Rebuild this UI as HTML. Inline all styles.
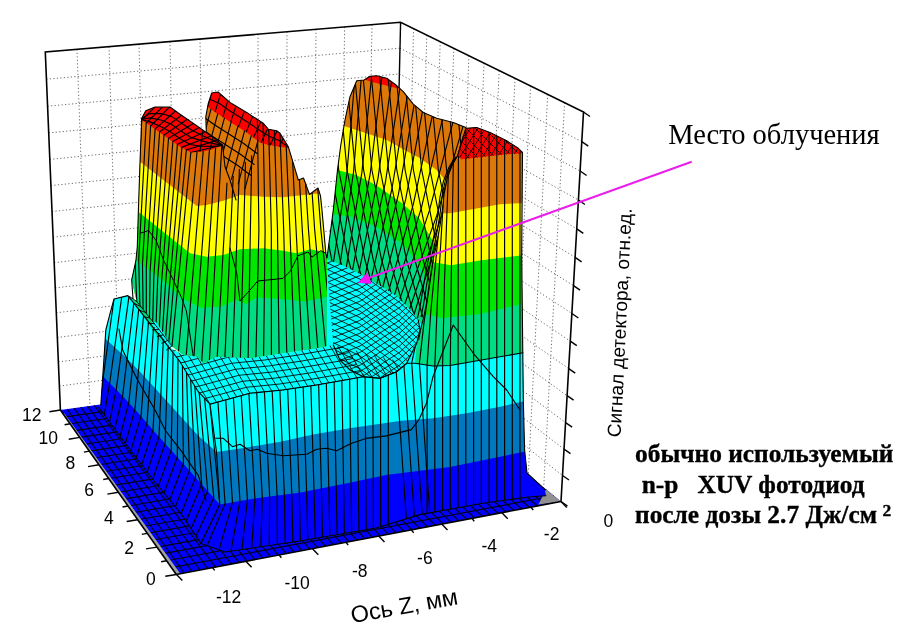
<!DOCTYPE html>
<html><head><meta charset="utf-8"><title>3D plot</title>
<style>html,body{margin:0;padding:0;background:#fff}svg{display:block}</style>
</head><body>
<svg width="900" height="635" viewBox="0 0 900 635">
<defs>
<clipPath id="c1"><polygon points="136.7,301.4 131.7,280.0 136.0,260.0 137.3,246.7 138.3,213.0 140.0,163.0 141.7,118.3 145.8,110.8 155.0,107.0 170.0,107.0 180.0,114.2 196.7,125.8 206.3,132.5 205.8,116.7 208.3,103.3 211.7,93.0 218.0,92.0 230.0,102.5 246.7,112.5 263.3,123.3 268.3,129.2 276.7,130.8 280.0,133.3 288.3,146.7 298.3,180.0 303.5,178.0 309.5,194.5 318.0,188.0 320.5,196.0 322.0,210.4 325.8,253.0 327.0,258.0 329.3,296.7 333.3,345.0 333.3,345.0 316.7,348.3 283.3,353.3 250.0,358.3 216.7,356.7 203.3,363.3 196.7,356.7 183.3,355.0 172.0,346.0"/></clipPath>
<clipPath id="c2"><polygon points="205.8,116.7 205.8,116.7 208.3,103.3 211.7,93.0 218.0,92.0 230.0,102.5 246.7,112.5 263.3,123.3 268.3,129.2 276.7,130.8 280.0,133.3 288.3,146.7 298.3,180.0 303.5,178.0 309.5,194.5 318.0,188.0 320.5,196.0 322.0,210.4 325.8,253.0 327.0,258.0 329.0,300.0 236.0,300.0 236.0,200.0 230.0,180.0 225.0,166.7 222.5,145.0 206.3,132.5"/></clipPath>
<clipPath id="c3"><polygon points="141.7,118.3 145.8,110.8 155.0,107.0 170.0,107.0 180.0,114.2 196.7,125.8 213.3,137.5 222.5,145.0 222.5,145.8 210.0,150.0 200.0,151.7 190.8,152.5 180.0,146.7 163.3,135.0 151.7,126.7 141.7,120.0"/></clipPath>
<clipPath id="c4"><polygon points="208.3,103.3 211.7,93.0 218.0,92.0 230.0,102.5 246.7,112.5 263.3,123.3 268.3,129.2 276.7,130.8 280.0,133.3 288.3,146.7 288.3,147.7 279.8,146.7 268.3,145.0 260.0,142.5 246.7,132.5 230.0,121.7 216.7,113.3 207.5,106.7"/></clipPath>
<clipPath id="c5"><polygon points="327.0,258.0 333.3,210.0 337.5,170.0 340.8,145.0 345.0,120.0 350.0,96.7 356.7,80.8 364.2,80.0 370.0,76.3 376.7,75.8 386.7,78.3 395.0,84.2 403.3,91.7 413.3,104.2 423.3,112.5 436.7,118.3 453.3,122.5 465.8,127.5 470.0,160.0 470.0,380.0 327.0,380.0"/></clipPath>
<clipPath id="c6"><polygon points="327.0,258.0 333.3,210.0 337.5,170.0 340.8,145.0 345.0,120.0 350.0,96.7 356.7,80.8 364.2,80.0 370.0,76.3 376.7,75.8 386.7,78.3 395.0,84.2 403.3,91.7 413.3,104.2 423.3,112.5 436.7,118.3 453.3,122.5 465.8,127.5 457.5,155.8 452.0,165.7 447.2,178.3 444.1,194.1 442.0,213.0 439.5,228.7 436.5,245.0 433.5,258.0 431.2,271.5 428.8,287.2 426.5,303.0 424.1,315.6 419.5,321.5 418.3,320.0 411.4,311.2 396.3,296.0 376.2,283.5 358.5,273.4 343.4,265.8 327.0,259.5"/></clipPath>
<clipPath id="c7"><polygon points="457.5,155.8 460.0,148.3 463.3,136.7 465.8,128.3 476.7,127.5 490.0,132.5 506.7,140.8 518.3,148.3 522.5,152.5 521.7,255.0 523.3,400.0 405.0,400.0 406.7,363.3 416.7,343.3 418.6,340.0 420.9,328.2 424.1,315.6 426.5,303.0 428.8,287.2 431.2,271.5 433.5,258.0 436.5,245.0 439.5,228.7 442.0,213.0 444.1,194.1 447.2,178.3 452.0,165.7"/></clipPath>
<clipPath id="c8"><polygon points="457.5,155.8 460.0,148.3 463.3,136.7 465.8,128.3 476.7,127.5 490.0,132.5 506.7,140.8 518.3,148.3 522.5,152.5 522.5,153.3 506.7,154.2 483.3,156.7 461.7,159.2 457.5,155.5"/></clipPath>
<clipPath id="c9"><polygon points="114.0,299.0 127.9,295.6 133.0,299.0 170.7,348.0 183.3,355.0 196.7,356.7 203.3,363.3 216.7,356.7 250.0,358.3 283.3,353.3 316.7,348.3 333.3,345.0 329.3,296.7 327.0,259.5 343.4,265.8 358.5,273.4 376.2,283.5 396.3,296.0 411.4,311.2 418.3,320.0 420.0,330.0 416.7,343.3 415.0,363.3 433.0,366.0 450.0,365.5 523.0,352.8 523.3,400.0 524.6,450.0 527.0,473.0 544.7,489.4 546.0,495.7 528.3,497.0 483.0,503.3 420.0,514.6 376.0,528.0 300.0,541.0 225.0,552.0 201.0,543.6 180.8,513.4 155.6,483.0 130.4,450.4 98.9,407.6 100.8,405.0 102.5,380.0 104.2,355.0 105.8,330.0 110.2,312.8"/></clipPath>
<clipPath id="c10"><polygon points="327.0,259.5 343.4,265.8 358.5,273.4 376.2,283.5 396.3,296.0 411.4,311.2 418.3,320.0 420.0,330.0 416.7,343.3 406.7,363.3 396.7,371.7 380.0,378.3 363.3,376.7 350.0,370.0 340.0,360.0 333.3,345.0 329.3,296.7 327.0,259.5"/></clipPath>
<clipPath id="c11"><polygon points="210.0,404.2 250.0,393.3 283.3,390.0 316.7,385.0 351.0,379.0 363.3,376.7 380.0,378.3 396.7,371.7 406.7,363.3 415.0,363.3 433.0,366.0 450.0,365.5 523.0,352.8 523.3,400.0 524.6,450.0 527.0,473.0 544.7,489.4 546.0,495.7 528.3,497.0 483.0,503.3 420.0,514.6 376.0,528.0 300.0,541.0 225.0,552.0 201.0,543.6 219.8,504.6 216.5,452.0"/></clipPath>
<clipPath id="c12"><polygon points="114.0,299.0 127.9,295.6 168.3,346.7 180.0,361.7 190.0,378.3 198.3,391.7 210.0,404.2 216.5,452.0 219.8,504.6 201.0,543.6 180.8,513.4 155.6,483.0 130.4,450.4 98.9,407.6 100.8,405.0 102.5,380.0 104.2,355.0 105.8,330.0 110.2,312.8"/></clipPath>
<clipPath id="c13"><polygon points="127.9,295.6 168.3,346.7 180.0,361.7 190.0,378.3 198.3,391.7 210.0,404.2 250.0,393.3 283.3,390.0 316.7,385.0 351.0,379.0 363.3,376.7 380.0,378.3 396.7,371.7 406.7,363.3 333.3,345.0 333.3,345.0 316.7,348.3 283.3,353.3 250.0,358.3 216.7,356.7 203.3,363.3 196.7,356.7 183.3,355.0 170.7,348.0 133.0,299.0"/></clipPath>
</defs>
<rect width="900" height="635" fill="#fff"/>
<polygon points="45.3,52.0 400.6,22.2 392.6,364.0 60.4,410.0" fill="#fff" />
<polygon points="400.6,22.2 583.5,112.0 561.0,501.5 392.6,364.0" fill="#fff" />
<line x1="77.0" y1="49.3" x2="89.9" y2="405.9" stroke="#6a6a6a" stroke-width="1" stroke-dasharray="1.2,2.3"/>
<line x1="109.0" y1="46.7" x2="119.7" y2="401.8" stroke="#6a6a6a" stroke-width="1" stroke-dasharray="1.2,2.3"/>
<line x1="139.0" y1="44.1" x2="147.7" y2="397.9" stroke="#6a6a6a" stroke-width="1" stroke-dasharray="1.2,2.3"/>
<line x1="170.0" y1="41.5" x2="176.7" y2="393.9" stroke="#6a6a6a" stroke-width="1" stroke-dasharray="1.2,2.3"/>
<line x1="200.0" y1="39.0" x2="204.7" y2="390.0" stroke="#6a6a6a" stroke-width="1" stroke-dasharray="1.2,2.3"/>
<line x1="229.0" y1="36.6" x2="231.8" y2="386.2" stroke="#6a6a6a" stroke-width="1" stroke-dasharray="1.2,2.3"/>
<line x1="258.0" y1="34.2" x2="259.0" y2="382.5" stroke="#6a6a6a" stroke-width="1" stroke-dasharray="1.2,2.3"/>
<line x1="287.0" y1="31.7" x2="286.1" y2="378.7" stroke="#6a6a6a" stroke-width="1" stroke-dasharray="1.2,2.3"/>
<line x1="316.0" y1="29.3" x2="313.3" y2="375.0" stroke="#6a6a6a" stroke-width="1" stroke-dasharray="1.2,2.3"/>
<line x1="344.6" y1="26.9" x2="340.1" y2="371.3" stroke="#6a6a6a" stroke-width="1" stroke-dasharray="1.2,2.3"/>
<line x1="372.0" y1="24.6" x2="365.8" y2="367.7" stroke="#6a6a6a" stroke-width="1" stroke-dasharray="1.2,2.3"/>
<line x1="46.4" y1="79.2" x2="400.0" y2="48.2" stroke="#6a6a6a" stroke-width="1" stroke-dasharray="1.2,2.3"/>
<line x1="47.6" y1="106.2" x2="399.4" y2="73.9" stroke="#6a6a6a" stroke-width="1" stroke-dasharray="1.2,2.3"/>
<line x1="48.7" y1="132.9" x2="398.8" y2="99.4" stroke="#6a6a6a" stroke-width="1" stroke-dasharray="1.2,2.3"/>
<line x1="49.8" y1="159.4" x2="398.2" y2="124.7" stroke="#6a6a6a" stroke-width="1" stroke-dasharray="1.2,2.3"/>
<line x1="50.9" y1="185.6" x2="397.6" y2="149.7" stroke="#6a6a6a" stroke-width="1" stroke-dasharray="1.2,2.3"/>
<line x1="52.0" y1="211.5" x2="397.0" y2="174.5" stroke="#6a6a6a" stroke-width="1" stroke-dasharray="1.2,2.3"/>
<line x1="53.1" y1="237.2" x2="396.5" y2="199.0" stroke="#6a6a6a" stroke-width="1" stroke-dasharray="1.2,2.3"/>
<line x1="54.2" y1="262.7" x2="395.9" y2="223.3" stroke="#6a6a6a" stroke-width="1" stroke-dasharray="1.2,2.3"/>
<line x1="55.2" y1="287.9" x2="395.3" y2="247.4" stroke="#6a6a6a" stroke-width="1" stroke-dasharray="1.2,2.3"/>
<line x1="56.3" y1="312.8" x2="394.8" y2="271.2" stroke="#6a6a6a" stroke-width="1" stroke-dasharray="1.2,2.3"/>
<line x1="57.3" y1="337.5" x2="394.2" y2="294.8" stroke="#6a6a6a" stroke-width="1" stroke-dasharray="1.2,2.3"/>
<line x1="58.4" y1="361.9" x2="393.7" y2="318.1" stroke="#6a6a6a" stroke-width="1" stroke-dasharray="1.2,2.3"/>
<line x1="59.4" y1="386.1" x2="393.1" y2="341.2" stroke="#6a6a6a" stroke-width="1" stroke-dasharray="1.2,2.3"/>
<line x1="413.6" y1="28.6" x2="404.7" y2="373.8" stroke="#6a6a6a" stroke-width="1" stroke-dasharray="1.2,2.3"/>
<line x1="426.8" y1="35.1" x2="416.9" y2="383.7" stroke="#6a6a6a" stroke-width="1" stroke-dasharray="1.2,2.3"/>
<line x1="440.2" y1="41.6" x2="429.4" y2="393.8" stroke="#6a6a6a" stroke-width="1" stroke-dasharray="1.2,2.3"/>
<line x1="453.8" y1="48.3" x2="441.9" y2="404.0" stroke="#6a6a6a" stroke-width="1" stroke-dasharray="1.2,2.3"/>
<line x1="468.9" y1="55.7" x2="455.9" y2="415.3" stroke="#6a6a6a" stroke-width="1" stroke-dasharray="1.2,2.3"/>
<line x1="484.0" y1="63.1" x2="469.8" y2="426.7" stroke="#6a6a6a" stroke-width="1" stroke-dasharray="1.2,2.3"/>
<line x1="499.1" y1="70.6" x2="483.7" y2="438.1" stroke="#6a6a6a" stroke-width="1" stroke-dasharray="1.2,2.3"/>
<line x1="515.0" y1="78.4" x2="498.3" y2="450.0" stroke="#6a6a6a" stroke-width="1" stroke-dasharray="1.2,2.3"/>
<line x1="530.6" y1="86.0" x2="512.6" y2="461.7" stroke="#6a6a6a" stroke-width="1" stroke-dasharray="1.2,2.3"/>
<line x1="547.7" y1="94.4" x2="528.3" y2="474.6" stroke="#6a6a6a" stroke-width="1" stroke-dasharray="1.2,2.3"/>
<line x1="564.6" y1="102.7" x2="543.7" y2="487.3" stroke="#6a6a6a" stroke-width="1" stroke-dasharray="1.2,2.3"/>
<line x1="400.0" y1="48.2" x2="581.8" y2="141.6" stroke="#6a6a6a" stroke-width="1" stroke-dasharray="1.2,2.3"/>
<line x1="399.4" y1="73.9" x2="580.1" y2="171.0" stroke="#6a6a6a" stroke-width="1" stroke-dasharray="1.2,2.3"/>
<line x1="398.8" y1="99.4" x2="578.4" y2="200.0" stroke="#6a6a6a" stroke-width="1" stroke-dasharray="1.2,2.3"/>
<line x1="398.2" y1="124.7" x2="576.8" y2="228.8" stroke="#6a6a6a" stroke-width="1" stroke-dasharray="1.2,2.3"/>
<line x1="397.6" y1="149.7" x2="575.1" y2="257.3" stroke="#6a6a6a" stroke-width="1" stroke-dasharray="1.2,2.3"/>
<line x1="397.0" y1="174.5" x2="573.5" y2="285.6" stroke="#6a6a6a" stroke-width="1" stroke-dasharray="1.2,2.3"/>
<line x1="396.5" y1="199.0" x2="571.9" y2="313.5" stroke="#6a6a6a" stroke-width="1" stroke-dasharray="1.2,2.3"/>
<line x1="395.9" y1="223.3" x2="570.3" y2="341.2" stroke="#6a6a6a" stroke-width="1" stroke-dasharray="1.2,2.3"/>
<line x1="395.3" y1="247.4" x2="568.7" y2="368.6" stroke="#6a6a6a" stroke-width="1" stroke-dasharray="1.2,2.3"/>
<line x1="394.8" y1="271.2" x2="567.1" y2="395.7" stroke="#6a6a6a" stroke-width="1" stroke-dasharray="1.2,2.3"/>
<line x1="394.2" y1="294.8" x2="565.6" y2="422.6" stroke="#6a6a6a" stroke-width="1" stroke-dasharray="1.2,2.3"/>
<line x1="393.7" y1="318.1" x2="564.0" y2="449.2" stroke="#6a6a6a" stroke-width="1" stroke-dasharray="1.2,2.3"/>
<line x1="393.1" y1="341.2" x2="562.5" y2="475.5" stroke="#6a6a6a" stroke-width="1" stroke-dasharray="1.2,2.3"/>
<polyline points="60.4,410.0 45.3,52.0 400.6,22.2 583.5,112.0 561.0,501.5" fill="none" stroke="#000" stroke-width="1.6" />
<line x1="400.6" y1="22.2" x2="392.6" y2="364.0" stroke="#000" stroke-width="1.4" />
<line x1="583.5" y1="112.0" x2="590.0" y2="116.5" stroke="#000" stroke-width="1.4" />
<line x1="581.8" y1="141.6" x2="588.3" y2="146.1" stroke="#000" stroke-width="1.4" />
<line x1="580.1" y1="171.0" x2="586.6" y2="175.5" stroke="#000" stroke-width="1.4" />
<line x1="578.4" y1="200.0" x2="584.9" y2="204.5" stroke="#000" stroke-width="1.4" />
<line x1="576.8" y1="228.8" x2="583.3" y2="233.3" stroke="#000" stroke-width="1.4" />
<line x1="575.1" y1="257.3" x2="581.6" y2="261.8" stroke="#000" stroke-width="1.4" />
<line x1="573.5" y1="285.6" x2="580.0" y2="290.1" stroke="#000" stroke-width="1.4" />
<line x1="571.9" y1="313.5" x2="578.4" y2="318.0" stroke="#000" stroke-width="1.4" />
<line x1="570.3" y1="341.2" x2="576.8" y2="345.7" stroke="#000" stroke-width="1.4" />
<line x1="568.7" y1="368.6" x2="575.2" y2="373.1" stroke="#000" stroke-width="1.4" />
<line x1="567.1" y1="395.7" x2="573.6" y2="400.2" stroke="#000" stroke-width="1.4" />
<line x1="565.6" y1="422.6" x2="572.1" y2="427.1" stroke="#000" stroke-width="1.4" />
<line x1="564.0" y1="449.2" x2="570.5" y2="453.7" stroke="#000" stroke-width="1.4" />
<line x1="562.5" y1="475.5" x2="569.0" y2="480.0" stroke="#000" stroke-width="1.4" />
<line x1="561.0" y1="501.5" x2="567.5" y2="506.0" stroke="#000" stroke-width="1.4" />
<polygon points="60.4,410.0 176.3,574.5 561.0,501.5 392.6,364.0" fill="#0000ff" />
<g stroke="#000018" stroke-width="1.15" fill="none">
<path d="M67.2 409.1L184.2 573.0"/>
<path d="M74.0 408.1L192.0 571.5"/>
<path d="M80.7 407.2L199.9 570.0"/>
<path d="M87.5 406.2L207.7 568.5"/>
<path d="M94.3 405.3L215.6 567.1"/>
<path d="M101.1 404.4L223.4 565.6"/>
<path d="M107.9 403.4L231.3 564.1"/>
<path d="M114.6 402.5L239.1 562.6"/>
<path d="M121.4 401.6L247.0 561.1"/>
<path d="M128.2 400.6L254.8 559.6"/>
<path d="M135.0 399.7L262.7 558.1"/>
<path d="M141.8 398.7L270.5 556.6"/>
<path d="M148.5 397.8L278.4 555.1"/>
<path d="M155.3 396.9L286.2 553.6"/>
<path d="M162.1 395.9L294.1 552.2"/>
<path d="M168.9 395.0L301.9 550.7"/>
<path d="M175.7 394.0L309.8 549.2"/>
<path d="M182.4 393.1L317.6 547.7"/>
<path d="M189.2 392.2L325.5 546.2"/>
<path d="M196.0 391.2L333.3 544.7"/>
<path d="M202.8 390.3L341.2 543.2"/>
<path d="M209.5 389.3L349.0 541.7"/>
<path d="M216.3 388.4L356.9 540.2"/>
<path d="M223.1 387.5L364.7 538.7"/>
<path d="M229.9 386.5L372.6 537.3"/>
<path d="M236.7 385.6L380.4 535.8"/>
<path d="M243.4 384.7L388.3 534.3"/>
<path d="M250.2 383.7L396.1 532.8"/>
<path d="M257.0 382.8L404.0 531.3"/>
<path d="M263.8 381.8L411.8 529.8"/>
<path d="M270.6 380.9L419.7 528.3"/>
<path d="M277.3 380.0L427.5 526.8"/>
<path d="M284.1 379.0L435.4 525.3"/>
<path d="M290.9 378.1L443.2 523.8"/>
<path d="M297.7 377.1L451.1 522.4"/>
<path d="M304.5 376.2L458.9 520.9"/>
<path d="M311.2 375.3L466.8 519.4"/>
<path d="M318.0 374.3L474.6 517.9"/>
<path d="M324.8 373.4L482.5 516.4"/>
<path d="M331.6 372.4L490.3 514.9"/>
<path d="M338.4 371.5L498.2 513.4"/>
<path d="M345.1 370.6L506.0 511.9"/>
<path d="M351.9 369.6L513.9 510.4"/>
<path d="M358.7 368.7L521.7 508.9"/>
<path d="M365.5 367.8L529.6 507.5"/>
<path d="M372.3 366.8L537.4 506.0"/>
<path d="M379.0 365.9L545.3 504.5"/>
<path d="M385.8 364.9L553.1 503.0"/>
<path d="M171.5 567.6L554.0 495.8"/>
<path d="M166.6 560.8L547.0 490.0"/>
<path d="M161.8 553.9L539.9 484.3"/>
<path d="M157.0 547.1L532.9 478.6"/>
<path d="M152.2 540.2L525.9 472.9"/>
<path d="M147.3 533.4L518.9 467.1"/>
<path d="M142.5 526.5L511.9 461.4"/>
<path d="M137.7 519.7L504.9 455.7"/>
<path d="M132.8 512.8L497.8 449.9"/>
<path d="M128.0 506.0L490.8 444.2"/>
<path d="M123.2 499.1L483.8 438.5"/>
<path d="M118.4 492.2L476.8 432.8"/>
<path d="M113.5 485.4L469.8 427.0"/>
<path d="M108.7 478.5L462.8 421.3"/>
<path d="M103.9 471.7L455.7 415.6"/>
<path d="M99.0 464.8L448.7 409.8"/>
<path d="M94.2 458.0L441.7 404.1"/>
<path d="M89.4 451.1L434.7 398.4"/>
<path d="M84.5 444.3L427.7 392.6"/>
<path d="M79.7 437.4L420.7 386.9"/>
<path d="M74.9 430.6L413.6 381.2"/>
<path d="M70.1 423.7L406.6 375.5"/>
<path d="M65.2 416.9L399.6 369.7"/>
</g>
<polygon points="62.0,413.0 176.3,574.5 179.8,573.0 64.5,413.5" fill="#a0a0a0" />
<polygon points="538.4,504.6 546.0,489.4 561.0,501.5" fill="#909090" />
<polygon points="136.7,301.4 131.7,280.0 136.0,260.0 137.3,246.7 138.3,213.0 140.0,163.0 141.7,118.3 145.8,110.8 155.0,107.0 170.0,107.0 180.0,114.2 196.7,125.8 206.3,132.5 205.8,116.7 208.3,103.3 211.7,93.0 218.0,92.0 230.0,102.5 246.7,112.5 263.3,123.3 268.3,129.2 276.7,130.8 280.0,133.3 288.3,146.7 298.3,180.0 303.5,178.0 309.5,194.5 318.0,188.0 320.5,196.0 322.0,210.4 325.8,253.0 327.0,258.0 329.3,296.7 333.3,345.0 333.3,345.0 316.7,348.3 283.3,353.3 250.0,358.3 216.7,356.7 203.3,363.3 196.7,356.7 183.3,355.0 172.0,346.0" fill="#dc780a" />
<polygon points="208.3,103.3 211.7,93.0 218.0,92.0 230.0,102.5 246.7,112.5 263.3,123.3 268.3,129.2 276.7,130.8 280.0,133.3 288.3,146.7 288.3,147.7 279.8,146.7 268.3,145.0 260.0,142.5 246.7,132.5 230.0,121.7 216.7,113.3 207.5,106.7" fill="#ff0000" />
<polygon points="141.7,118.3 145.8,110.8 155.0,107.0 170.0,107.0 180.0,114.2 196.7,125.8 213.3,137.5 222.5,145.0 222.5,145.8 210.0,150.0 200.0,151.7 190.8,152.5 180.0,146.7 163.3,135.0 151.7,126.7 141.7,120.0" fill="#ff0000" />
<polygon points="108.5,137.1 140.0,161.7 196.7,206.0 206.7,205.0 223.3,200.7 240.0,195.0 263.3,196.7 283.3,197.3 303.3,195.0 321.0,193.3 360.8,189.5 360.8,720.0 108.5,720.0" fill="#ffff00" clip-path="url(#c1)"/>
<polygon points="107.1,186.6 138.3,211.7 190.0,253.3 206.7,256.7 223.3,255.0 240.0,249.3 263.3,248.3 283.3,250.7 296.7,253.3 310.0,249.3 325.0,252.0 364.4,259.1 364.4,720.0 107.1,720.0" fill="#00e600" clip-path="url(#c1)"/>
<polygon points="103.9,236.2 136.0,260.0 163.0,280.0 181.0,297.6 201.0,307.7 221.0,306.5 236.0,300.0 246.0,304.0 256.5,297.6 282.0,299.0 305.0,301.4 326.7,296.7 365.8,288.2 365.8,720.0 103.9,720.0" fill="#00dc82" clip-path="url(#c1)"/>
<g clip-path="url(#c1)" stroke="#000" stroke-width="1.15" fill="none" stroke-linecap="round" stroke-linejoin="round">
<path d="M141.7 120.0L134.9 256.0L136.7 301.4"/>
<path d="M146.2 123.0L138.7 259.8L139.9 305.5"/>
<path d="M150.6 126.0L142.5 263.6L143.1 309.5"/>
<path d="M155.1 129.1L146.3 267.5L146.3 313.6"/>
<path d="M159.6 132.3L150.1 271.3L149.5 317.6"/>
<path d="M164.0 135.5L153.9 275.1L152.7 321.7"/>
<path d="M168.5 138.6L157.7 279.0L156.0 325.7"/>
<path d="M172.9 141.8L161.5 282.8L159.2 329.8"/>
<path d="M177.4 144.9L165.3 286.6L162.4 333.8"/>
<path d="M181.9 147.7L169.1 290.3L165.6 337.9"/>
<path d="M186.3 150.1L172.9 294.0L168.8 341.9"/>
<path d="M190.8 152.5L176.7 297.6L172.0 346.0"/>
<path d="M178.4 352.3L197.0 152.0"/>
<path d="M186.2 355.4L203.2 151.2"/>
<path d="M193.9 356.3L209.4 150.1"/>
<path d="M201.7 361.7L215.6 148.1"/>
<path d="M209.4 360.3L221.8 146.0"/>
<path d="M217.2 356.7L227.0 183.0"/>
<path d="M224.9 357.1L233.2 176.2"/>
<path d="M232.6 357.5L239.4 169.4"/>
<path d="M240.4 357.8L245.5 162.6"/>
<path d="M248.1 358.2L251.7 155.8"/>
<path d="M255.9 357.4L258.9 230.0L257.3 110.0"/>
<path d="M263.6 356.3L265.1 230.0L262.8 110.0"/>
<path d="M271.4 355.1L271.3 230.0L268.2 110.0"/>
<path d="M279.1 353.9L277.5 230.0L273.7 110.0"/>
<path d="M286.8 352.8L283.7 230.0L279.1 110.0"/>
<path d="M294.6 351.6L289.9 230.0L284.6 110.0"/>
<path d="M302.3 350.5L296.1 230.0L290.0 110.0"/>
<path d="M310.1 349.3L302.3 230.0L295.5 110.0"/>
<path d="M317.8 348.1L308.5 230.0L300.9 110.0"/>
<path d="M325.6 346.5L314.7 230.0L306.4 110.0"/>
<path d="M333.3 345.0L320.9 230.0L311.8 110.0"/>
</g>
<g clip-path="url(#c2)" stroke="#000" stroke-width="1.15" fill="none" stroke-linecap="round" stroke-linejoin="round">
<path d="M211.0 109.2L198.0 157.2"/>
<path d="M217.7 113.9L204.7 161.9"/>
<path d="M224.4 118.2L211.4 166.2"/>
<path d="M231.1 122.4L218.1 170.4"/>
<path d="M237.8 126.7L224.8 174.7"/>
<path d="M244.5 131.1L231.5 179.1"/>
<path d="M251.2 135.9L238.2 183.9"/>
<path d="M257.9 140.9L244.9 188.9"/>
<path d="M204.5 117.7L213.7 124.3L227.0 132.7L243.7 143.5L257.0 153.5"/>
<path d="M201.6 128.7L210.8 135.3L224.1 143.7L240.8 154.5L254.1 164.5"/>
<path d="M198.6 139.7L207.8 146.3L221.1 154.7L237.8 165.5L251.1 175.5"/>
</g>
<g clip-path="url(#c1)" stroke="#000" stroke-width="1.0" fill="none" stroke-linecap="round" stroke-linejoin="round">
<path d="M141.0 233.0L148.6 230.5L156.2 240.6L163.8 260.8L171.3 275.9L181.4 297.3L186.4 311.0L190.0 335.0L193.3 356.7"/>
<path d="M230.0 248.0L236.7 273.0L240.0 301.0L250.0 290.0L257.7 281.0L283.0 278.4L290.5 270.9L298.0 255.7L308.0 252.0L312.0 257.0L320.7 250.7L325.8 253.2"/>
</g>
<g clip-path="url(#c3)" stroke="#000" stroke-width="1.15" fill="none" stroke-linecap="round" stroke-linejoin="round">
<path d="M141.7 118.7L149.7 113.6L160.9 113.5L172.0 116.6L181.9 123.6L191.9 130.3L202.3 135.5L212.6 140.3L222.5 145.2"/>
<path d="M141.7 119.2L150.2 117.9L160.8 120.0L171.3 124.3L181.0 131.1L191.0 137.4L201.7 140.9L212.3 143.4L222.5 145.4"/>
<path d="M141.7 119.6L150.7 122.1L160.7 126.5L170.6 131.9L180.1 138.7L190.2 144.5L201.1 146.3L212.0 146.4L222.5 145.6"/>
<path d="M155.0 107.0L141.7 120.0"/>
<path d="M162.3 107.0L146.2 123.0"/>
<path d="M169.5 107.0L150.6 126.0"/>
<path d="M175.5 111.0L155.0 129.1"/>
<path d="M181.4 115.2L159.3 132.2"/>
<path d="M187.4 119.3L163.7 135.3"/>
<path d="M193.3 123.5L168.1 138.4"/>
<path d="M199.3 127.6L172.5 141.4"/>
<path d="M205.2 131.8L176.9 144.5"/>
<path d="M211.1 136.0L181.4 147.4"/>
<path d="M216.9 140.4L186.1 150.0"/>
<path d="M222.5 145.0L190.8 152.5"/>
<path d="M200.0 151.7L203.0 130.2"/>
<path d="M210.0 150.0L213.0 137.3"/>
</g>
<g clip-path="url(#c4)" stroke="#000" stroke-width="1.15" fill="none" stroke-linecap="round" stroke-linejoin="round">
<path d="M211.7 93.0L207.5 106.7"/>
<path d="M220.6 94.2L215.0 112.1"/>
<path d="M227.9 100.7L222.8 117.1"/>
<path d="M236.0 106.1L230.6 122.1"/>
<path d="M244.4 111.1L238.3 127.1"/>
<path d="M252.7 116.4L246.1 132.1"/>
<path d="M260.8 121.7L253.5 137.6"/>
<path d="M267.7 128.5L261.1 142.8"/>
<path d="M277.0 131.0L270.0 145.2"/>
<path d="M283.2 138.4L279.1 146.6"/>
<path d="M288.3 146.7L288.3 147.7"/>
<path d="M209.8 99.2L219.9 103.8L229.5 110.8L239.6 117.1L249.7 123.5L259.5 130.2L269.2 136.3L279.6 140.8L288.3 147.1"/>
</g>
<g stroke="#000" stroke-width="1.1" fill="none" stroke-linecap="round" stroke-linejoin="round">
<path d="M133.0 299.0L131.7 280.0L136.0 260.0L137.3 246.7L138.3 213.0L140.0 163.0L141.7 118.3L145.8 110.8L155.0 107.0L170.0 107.0L180.0 114.2L196.7 125.8L213.3 137.5L222.5 145.0L223.3 148.0"/>
<path d="M206.3 132.5L205.8 116.7L208.3 103.3L211.7 93.0L218.0 92.0L230.0 102.5L246.7 112.5L263.3 123.3L268.3 129.2L276.7 130.8L280.0 133.3L288.3 146.7L298.3 180.0L303.5 178.0L309.5 194.5L318.0 188.0L320.5 196.0L322.0 210.4L325.8 253.0L327.0 258.0"/>
<path d="M222.5 145.0L225.0 166.7L230.0 180.0L236.0 200.0"/>
</g>
<polygon points="327.0,258.0 333.3,210.0 337.5,170.0 340.8,145.0 345.0,120.0 350.0,96.7 356.7,80.8 364.2,80.0 370.0,76.3 376.7,75.8 386.7,78.3 395.0,84.2 403.3,91.7 413.3,104.2 423.3,112.5 436.7,118.3 453.3,122.5 465.8,127.5 470.0,160.0 470.0,380.0 327.0,380.0" fill="#dc780a" />
<polygon points="364.8,79.6 370.0,76.3 376.7,75.8 386.7,78.3 395.0,84.2 400.0,89.0 386.3,85.6 376.2,83.1 368.6,81.0" fill="#ff0000" />
<polygon points="305.2,113.6 343.3,125.8 361.7,131.7 386.7,140.0 403.3,149.2 420.0,158.3 436.7,170.0 446.0,181.0 471.8,211.5 471.8,720.0 305.2,720.0" fill="#ffff00" clip-path="url(#c5)"/>
<polygon points="298.4,159.8 337.1,170.0 356.0,175.0 376.2,185.2 401.4,202.8 419.0,218.0 434.1,243.0 439.2,265.8 447.9,304.8 447.9,720.0 298.4,720.0" fill="#00e600" clip-path="url(#c5)"/>
<polygon points="293.7,208.6 333.3,214.2 351.0,216.7 376.2,226.8 401.4,243.1 416.5,260.8 426.6,278.4 431.6,301.1 440.2,340.2 440.2,720.0 293.7,720.0" fill="#00dc82" clip-path="url(#c5)"/>
<polygon points="289.7,245.2 327.0,259.5 343.4,265.8 358.5,273.4 376.2,283.5 396.3,296.0 411.4,311.2 418.3,320.0 443.0,351.5 443.0,720.0 289.7,720.0" fill="#00ffff" clip-path="url(#c5)"/>
<g clip-path="url(#c6)" stroke="#000" stroke-width="1.15" fill="none" stroke-linecap="round" stroke-linejoin="round">
<path d="M354.2 86.7L346.8 174.4L333.5 262.0"/>
<path d="M361.1 80.3L353.5 172.4L340.0 264.5"/>
<path d="M371.5 77.5L361.9 172.4L346.3 267.3"/>
<path d="M381.9 77.1L370.2 173.7L352.5 270.4"/>
<path d="M391.5 81.7L378.1 177.6L358.7 273.5"/>
<path d="M399.8 88.6L385.3 182.8L364.8 277.0"/>
<path d="M407.2 96.5L392.0 188.5L370.8 280.4"/>
<path d="M414.1 104.8L398.4 194.4L376.8 283.9"/>
<path d="M422.4 111.8L405.6 199.7L382.7 287.5"/>
<path d="M432.2 116.3L413.4 203.8L388.6 291.2"/>
<path d="M442.4 119.7L421.5 207.3L394.5 294.9"/>
<path d="M452.9 122.4L429.3 210.9L399.7 299.4"/>
<path d="M463.0 126.4L436.8 215.4L404.6 304.4"/>
<path d="M463.6 135.0L439.5 222.1L409.5 309.3"/>
<path d="M460.5 145.4L440.3 230.0L414.0 314.5"/>
<path d="M255.0 75.0L264.0 170.0L282.0 260.0L305.0 340.0"/>
<path d="M263.3 75.0L272.3 170.0L290.3 260.0L313.3 340.0"/>
<path d="M271.6 75.0L280.6 170.0L298.6 260.0L321.6 340.0"/>
<path d="M279.9 75.0L288.9 170.0L306.9 260.0L329.9 340.0"/>
<path d="M288.2 75.0L297.2 170.0L315.2 260.0L338.2 340.0"/>
<path d="M296.5 75.0L305.5 170.0L323.5 260.0L346.5 340.0"/>
<path d="M304.8 75.0L313.8 170.0L331.8 260.0L354.8 340.0"/>
<path d="M313.1 75.0L322.1 170.0L340.1 260.0L363.1 340.0"/>
<path d="M321.4 75.0L330.4 170.0L348.4 260.0L371.4 340.0"/>
<path d="M329.7 75.0L338.7 170.0L356.7 260.0L379.7 340.0"/>
<path d="M338.0 75.0L347.0 170.0L365.0 260.0L388.0 340.0"/>
<path d="M346.3 75.0L355.3 170.0L373.3 260.0L396.3 340.0"/>
<path d="M354.6 75.0L363.6 170.0L381.6 260.0L404.6 340.0"/>
<path d="M362.9 75.0L371.9 170.0L389.9 260.0L412.9 340.0"/>
<path d="M371.2 75.0L380.2 170.0L398.2 260.0L421.2 340.0"/>
<path d="M379.5 75.0L388.5 170.0L406.5 260.0L429.5 340.0"/>
<path d="M387.8 75.0L396.8 170.0L414.8 260.0L437.8 340.0"/>
<path d="M396.1 75.0L405.1 170.0L423.1 260.0L446.1 340.0"/>
<path d="M404.4 75.0L413.4 170.0L431.4 260.0L454.4 340.0"/>
<path d="M412.7 75.0L421.7 170.0L439.7 260.0L462.7 340.0"/>
<path d="M421.0 75.0L430.0 170.0L448.0 260.0L471.0 340.0"/>
<path d="M429.3 75.0L438.3 170.0L456.3 260.0L479.3 340.0"/>
<path d="M437.6 75.0L446.6 170.0L464.6 260.0L487.6 340.0"/>
<path d="M445.9 75.0L454.9 170.0L472.9 260.0L495.9 340.0"/>
<path d="M454.2 75.0L463.2 170.0L481.2 260.0L504.2 340.0"/>
<path d="M462.5 75.0L471.5 170.0L489.5 260.0L512.5 340.0"/>
<path d="M456.1 156.9L450.4 166.8L445.5 179.4L442.2 195.2L440.0 214.1L437.4 229.8L434.2 246.1L431.1 259.1L428.6 272.6L426.1 288.2L423.6 304.1L421.1 316.7"/>
<path d="M454.5 158.1L448.7 167.9L443.6 180.6L440.1 196.3L437.7 215.2L434.9 230.9L431.6 247.2L428.2 260.2L425.6 273.8L422.9 289.4L420.3 305.2L417.6 317.9"/>
</g>
<polygon points="457.5,155.8 460.0,148.3 463.3,136.7 465.8,128.3 476.7,127.5 490.0,132.5 506.7,140.8 518.3,148.3 522.5,152.5 521.7,255.0 523.3,400.0 405.0,400.0 406.7,363.3 416.7,343.3 418.6,340.0 420.9,328.2 424.1,315.6 426.5,303.0 428.8,287.2 431.2,271.5 433.5,258.0 436.5,245.0 439.5,228.7 442.0,213.0 444.1,194.1 447.2,178.3 452.0,165.7" fill="#dc780a" />
<polygon points="457.5,155.8 460.0,148.3 463.3,136.7 465.8,128.3 476.7,127.5 490.0,132.5 506.7,140.8 518.3,148.3 522.5,152.5 522.5,153.3 506.7,154.2 483.3,156.7 461.7,159.2 457.5,155.5" fill="#ff0000" />
<polygon points="401.0,213.7 441.0,213.3 450.0,213.2 500.0,204.3 523.0,203.0 562.9,200.7 562.9,720.0 401.0,720.0" fill="#ffff00" clip-path="url(#c7)"/>
<polygon points="392.6,255.3 432.0,262.0 450.9,265.2 480.0,260.5 523.0,255.2 562.7,250.3 562.7,720.0 392.6,720.0" fill="#00e600" clip-path="url(#c7)"/>
<polygon points="384.9,305.8 424.0,314.0 443.0,318.0 480.0,314.0 523.0,303.6 561.9,294.2 561.9,720.0 384.9,720.0" fill="#00dc82" clip-path="url(#c7)"/>
<g clip-path="url(#c8)" stroke="#000" stroke-width="0.8" fill="none" stroke-linecap="round" stroke-linejoin="round">
<path d="M410.0 165.0L438.0 120.0"/>
<path d="M386.0 120.0L431.0 165.0"/>
<path d="M417.5 165.0L445.5 120.0"/>
<path d="M395.0 120.0L440.0 165.0"/>
<path d="M425.0 165.0L453.0 120.0"/>
<path d="M404.0 120.0L449.0 165.0"/>
<path d="M432.5 165.0L460.5 120.0"/>
<path d="M413.0 120.0L458.0 165.0"/>
<path d="M440.0 165.0L468.0 120.0"/>
<path d="M422.0 120.0L467.0 165.0"/>
<path d="M447.5 165.0L475.5 120.0"/>
<path d="M431.0 120.0L476.0 165.0"/>
<path d="M455.0 165.0L483.0 120.0"/>
<path d="M440.0 120.0L485.0 165.0"/>
<path d="M462.5 165.0L490.5 120.0"/>
<path d="M449.0 120.0L494.0 165.0"/>
<path d="M470.0 165.0L498.0 120.0"/>
<path d="M458.0 120.0L503.0 165.0"/>
<path d="M477.5 165.0L505.5 120.0"/>
<path d="M467.0 120.0L512.0 165.0"/>
<path d="M485.0 165.0L513.0 120.0"/>
<path d="M476.0 120.0L521.0 165.0"/>
<path d="M492.5 165.0L520.5 120.0"/>
<path d="M485.0 120.0L530.0 165.0"/>
<path d="M500.0 165.0L528.0 120.0"/>
<path d="M494.0 120.0L539.0 165.0"/>
<path d="M507.5 165.0L535.5 120.0"/>
<path d="M503.0 120.0L548.0 165.0"/>
<path d="M515.0 165.0L543.0 120.0"/>
<path d="M512.0 120.0L557.0 165.0"/>
<path d="M522.5 165.0L550.5 120.0"/>
<path d="M521.0 120.0L566.0 165.0"/>
<path d="M530.0 165.0L558.0 120.0"/>
<path d="M530.0 120.0L575.0 165.0"/>
<path d="M537.5 165.0L565.5 120.0"/>
<path d="M539.0 120.0L584.0 165.0"/>
<path d="M545.0 165.0L573.0 120.0"/>
<path d="M548.0 120.0L593.0 165.0"/>
<path d="M552.5 165.0L580.5 120.0"/>
<path d="M557.0 120.0L602.0 165.0"/>
</g>
<polygon points="114.0,299.0 127.9,295.6 133.0,299.0 170.7,348.0 183.3,355.0 196.7,356.7 203.3,363.3 216.7,356.7 250.0,358.3 283.3,353.3 316.7,348.3 333.3,345.0 329.3,296.7 327.0,259.5 343.4,265.8 358.5,273.4 376.2,283.5 396.3,296.0 411.4,311.2 418.3,320.0 420.0,330.0 416.7,343.3 415.0,363.3 433.0,366.0 450.0,365.5 523.0,352.8 523.3,400.0 524.6,450.0 527.0,473.0 544.7,489.4 546.0,495.7 528.3,497.0 483.0,503.3 420.0,514.6 376.0,528.0 300.0,541.0 225.0,552.0 201.0,543.6 180.8,513.4 155.6,483.0 130.4,450.4 98.9,407.6 100.8,405.0 102.5,380.0 104.2,355.0 105.8,330.0 110.2,312.8" fill="#00ffff" />
<polygon points="76.1,312.4 105.8,339.2 123.3,355.0 140.0,371.7 156.7,390.0 173.3,408.3 190.0,426.7 198.3,435.8 216.5,452.0 243.8,447.9 281.6,441.6 313.0,434.6 351.0,428.0 401.4,420.8 433.3,418.3 466.7,413.3 500.0,406.7 521.7,401.7 560.7,392.7 560.7,720.0 76.1,720.0" fill="#0078be" clip-path="url(#c9)"/>
<polygon points="75.0,348.4 103.3,376.7 123.3,396.7 140.0,415.0 156.7,434.2 180.0,460.0 206.0,489.0 219.8,504.6 256.4,498.3 300.6,492.6 351.0,482.6 386.0,475.0 450.0,467.0 523.0,452.0 562.2,443.9 562.2,720.0 75.0,720.0" fill="#0000ff" clip-path="url(#c9)"/>
<g clip-path="url(#c10)" stroke="#000" stroke-width="0.85" fill="none" stroke-linecap="round" stroke-linejoin="round">
<path d="M320.0 80.0L360.0 100.0L400.0 130.0L430.0 158.0"/>
<path d="M320.0 138.0L360.0 122.0L400.0 96.0L430.0 68.0"/>
<path d="M320.0 86.4L360.0 106.4L400.0 136.4L430.0 164.4"/>
<path d="M320.0 144.4L360.0 128.4L400.0 102.4L430.0 74.4"/>
<path d="M320.0 92.8L360.0 112.8L400.0 142.8L430.0 170.8"/>
<path d="M320.0 150.8L360.0 134.8L400.0 108.8L430.0 80.8"/>
<path d="M320.0 99.2L360.0 119.2L400.0 149.2L430.0 177.2"/>
<path d="M320.0 157.2L360.0 141.2L400.0 115.2L430.0 87.2"/>
<path d="M320.0 105.6L360.0 125.6L400.0 155.6L430.0 183.6"/>
<path d="M320.0 163.6L360.0 147.6L400.0 121.6L430.0 93.6"/>
<path d="M320.0 112.0L360.0 132.0L400.0 162.0L430.0 190.0"/>
<path d="M320.0 170.0L360.0 154.0L400.0 128.0L430.0 100.0"/>
<path d="M320.0 118.4L360.0 138.4L400.0 168.4L430.0 196.4"/>
<path d="M320.0 176.4L360.0 160.4L400.0 134.4L430.0 106.4"/>
<path d="M320.0 124.8L360.0 144.8L400.0 174.8L430.0 202.8"/>
<path d="M320.0 182.8L360.0 166.8L400.0 140.8L430.0 112.8"/>
<path d="M320.0 131.2L360.0 151.2L400.0 181.2L430.0 209.2"/>
<path d="M320.0 189.2L360.0 173.2L400.0 147.2L430.0 119.2"/>
<path d="M320.0 137.6L360.0 157.6L400.0 187.6L430.0 215.6"/>
<path d="M320.0 195.6L360.0 179.6L400.0 153.6L430.0 125.6"/>
<path d="M320.0 144.0L360.0 164.0L400.0 194.0L430.0 222.0"/>
<path d="M320.0 202.0L360.0 186.0L400.0 160.0L430.0 132.0"/>
<path d="M320.0 150.4L360.0 170.4L400.0 200.4L430.0 228.4"/>
<path d="M320.0 208.4L360.0 192.4L400.0 166.4L430.0 138.4"/>
<path d="M320.0 156.8L360.0 176.8L400.0 206.8L430.0 234.8"/>
<path d="M320.0 214.8L360.0 198.8L400.0 172.8L430.0 144.8"/>
<path d="M320.0 163.2L360.0 183.2L400.0 213.2L430.0 241.2"/>
<path d="M320.0 221.2L360.0 205.2L400.0 179.2L430.0 151.2"/>
<path d="M320.0 169.6L360.0 189.6L400.0 219.6L430.0 247.6"/>
<path d="M320.0 227.6L360.0 211.6L400.0 185.6L430.0 157.6"/>
<path d="M320.0 176.0L360.0 196.0L400.0 226.0L430.0 254.0"/>
<path d="M320.0 234.0L360.0 218.0L400.0 192.0L430.0 164.0"/>
<path d="M320.0 182.4L360.0 202.4L400.0 232.4L430.0 260.4"/>
<path d="M320.0 240.4L360.0 224.4L400.0 198.4L430.0 170.4"/>
<path d="M320.0 188.8L360.0 208.8L400.0 238.8L430.0 266.8"/>
<path d="M320.0 246.8L360.0 230.8L400.0 204.8L430.0 176.8"/>
<path d="M320.0 195.2L360.0 215.2L400.0 245.2L430.0 273.2"/>
<path d="M320.0 253.2L360.0 237.2L400.0 211.2L430.0 183.2"/>
<path d="M320.0 201.6L360.0 221.6L400.0 251.6L430.0 279.6"/>
<path d="M320.0 259.6L360.0 243.6L400.0 217.6L430.0 189.6"/>
<path d="M320.0 208.0L360.0 228.0L400.0 258.0L430.0 286.0"/>
<path d="M320.0 266.0L360.0 250.0L400.0 224.0L430.0 196.0"/>
<path d="M320.0 214.4L360.0 234.4L400.0 264.4L430.0 292.4"/>
<path d="M320.0 272.4L360.0 256.4L400.0 230.4L430.0 202.4"/>
<path d="M320.0 220.8L360.0 240.8L400.0 270.8L430.0 298.8"/>
<path d="M320.0 278.8L360.0 262.8L400.0 236.8L430.0 208.8"/>
<path d="M320.0 227.2L360.0 247.2L400.0 277.2L430.0 305.2"/>
<path d="M320.0 285.2L360.0 269.2L400.0 243.2L430.0 215.2"/>
<path d="M320.0 233.6L360.0 253.6L400.0 283.6L430.0 311.6"/>
<path d="M320.0 291.6L360.0 275.6L400.0 249.6L430.0 221.6"/>
<path d="M320.0 240.0L360.0 260.0L400.0 290.0L430.0 318.0"/>
<path d="M320.0 298.0L360.0 282.0L400.0 256.0L430.0 228.0"/>
<path d="M320.0 246.4L360.0 266.4L400.0 296.4L430.0 324.4"/>
<path d="M320.0 304.4L360.0 288.4L400.0 262.4L430.0 234.4"/>
<path d="M320.0 252.8L360.0 272.8L400.0 302.8L430.0 330.8"/>
<path d="M320.0 310.8L360.0 294.8L400.0 268.8L430.0 240.8"/>
<path d="M320.0 259.2L360.0 279.2L400.0 309.2L430.0 337.2"/>
<path d="M320.0 317.2L360.0 301.2L400.0 275.2L430.0 247.2"/>
<path d="M320.0 265.6L360.0 285.6L400.0 315.6L430.0 343.6"/>
<path d="M320.0 323.6L360.0 307.6L400.0 281.6L430.0 253.6"/>
<path d="M320.0 272.0L360.0 292.0L400.0 322.0L430.0 350.0"/>
<path d="M320.0 330.0L360.0 314.0L400.0 288.0L430.0 260.0"/>
<path d="M320.0 278.4L360.0 298.4L400.0 328.4L430.0 356.4"/>
<path d="M320.0 336.4L360.0 320.4L400.0 294.4L430.0 266.4"/>
<path d="M320.0 284.8L360.0 304.8L400.0 334.8L430.0 362.8"/>
<path d="M320.0 342.8L360.0 326.8L400.0 300.8L430.0 272.8"/>
<path d="M320.0 291.2L360.0 311.2L400.0 341.2L430.0 369.2"/>
<path d="M320.0 349.2L360.0 333.2L400.0 307.2L430.0 279.2"/>
<path d="M320.0 297.6L360.0 317.6L400.0 347.6L430.0 375.6"/>
<path d="M320.0 355.6L360.0 339.6L400.0 313.6L430.0 285.6"/>
<path d="M320.0 304.0L360.0 324.0L400.0 354.0L430.0 382.0"/>
<path d="M320.0 362.0L360.0 346.0L400.0 320.0L430.0 292.0"/>
<path d="M320.0 310.4L360.0 330.4L400.0 360.4L430.0 388.4"/>
<path d="M320.0 368.4L360.0 352.4L400.0 326.4L430.0 298.4"/>
<path d="M320.0 316.8L360.0 336.8L400.0 366.8L430.0 394.8"/>
<path d="M320.0 374.8L360.0 358.8L400.0 332.8L430.0 304.8"/>
<path d="M320.0 323.2L360.0 343.2L400.0 373.2L430.0 401.2"/>
<path d="M320.0 381.2L360.0 365.2L400.0 339.2L430.0 311.2"/>
<path d="M320.0 329.6L360.0 349.6L400.0 379.6L430.0 407.6"/>
<path d="M320.0 387.6L360.0 371.6L400.0 345.6L430.0 317.6"/>
<path d="M320.0 336.0L360.0 356.0L400.0 386.0L430.0 414.0"/>
<path d="M320.0 394.0L360.0 378.0L400.0 352.0L430.0 324.0"/>
<path d="M320.0 342.4L360.0 362.4L400.0 392.4L430.0 420.4"/>
<path d="M320.0 400.4L360.0 384.4L400.0 358.4L430.0 330.4"/>
<path d="M320.0 348.8L360.0 368.8L400.0 398.8L430.0 426.8"/>
<path d="M320.0 406.8L360.0 390.8L400.0 364.8L430.0 336.8"/>
<path d="M320.0 355.2L360.0 375.2L400.0 405.2L430.0 433.2"/>
<path d="M320.0 413.2L360.0 397.2L400.0 371.2L430.0 343.2"/>
<path d="M320.0 361.6L360.0 381.6L400.0 411.6L430.0 439.6"/>
<path d="M320.0 419.6L360.0 403.6L400.0 377.6L430.0 349.6"/>
<path d="M320.0 368.0L360.0 388.0L400.0 418.0L430.0 446.0"/>
<path d="M320.0 426.0L360.0 410.0L400.0 384.0L430.0 356.0"/>
<path d="M320.0 374.4L360.0 394.4L400.0 424.4L430.0 452.4"/>
<path d="M320.0 432.4L360.0 416.4L400.0 390.4L430.0 362.4"/>
<path d="M320.0 380.8L360.0 400.8L400.0 430.8L430.0 458.8"/>
<path d="M320.0 438.8L360.0 422.8L400.0 396.8L430.0 368.8"/>
<path d="M320.0 387.2L360.0 407.2L400.0 437.2L430.0 465.2"/>
<path d="M320.0 445.2L360.0 429.2L400.0 403.2L430.0 375.2"/>
<path d="M320.0 393.6L360.0 413.6L400.0 443.6L430.0 471.6"/>
<path d="M320.0 451.6L360.0 435.6L400.0 409.6L430.0 381.6"/>
<path d="M320.0 400.0L360.0 420.0L400.0 450.0L430.0 478.0"/>
<path d="M320.0 458.0L360.0 442.0L400.0 416.0L430.0 388.0"/>
<path d="M320.0 406.4L360.0 426.4L400.0 456.4L430.0 484.4"/>
<path d="M320.0 464.4L360.0 448.4L400.0 422.4L430.0 394.4"/>
<path d="M320.0 412.8L360.0 432.8L400.0 462.8L430.0 490.8"/>
<path d="M320.0 470.8L360.0 454.8L400.0 428.8L430.0 400.8"/>
<path d="M320.0 419.2L360.0 439.2L400.0 469.2L430.0 497.2"/>
<path d="M320.0 477.2L360.0 461.2L400.0 435.2L430.0 407.2"/>
<path d="M320.0 425.6L360.0 445.6L400.0 475.6L430.0 503.6"/>
<path d="M320.0 483.6L360.0 467.6L400.0 441.6L430.0 413.6"/>
<path d="M320.0 432.0L360.0 452.0L400.0 482.0L430.0 510.0"/>
<path d="M320.0 490.0L360.0 474.0L400.0 448.0L430.0 420.0"/>
<path d="M320.0 438.4L360.0 458.4L400.0 488.4L430.0 516.4"/>
<path d="M320.0 496.4L360.0 480.4L400.0 454.4L430.0 426.4"/>
<path d="M320.0 444.8L360.0 464.8L400.0 494.8L430.0 522.8"/>
<path d="M320.0 502.8L360.0 486.8L400.0 460.8L430.0 432.8"/>
<path d="M320.0 451.2L360.0 471.2L400.0 501.2L430.0 529.2"/>
<path d="M320.0 509.2L360.0 493.2L400.0 467.2L430.0 439.2"/>
<path d="M320.0 457.6L360.0 477.6L400.0 507.6L430.0 535.6"/>
<path d="M320.0 515.6L360.0 499.6L400.0 473.6L430.0 445.6"/>
<path d="M320.0 464.0L360.0 484.0L400.0 514.0L430.0 542.0"/>
<path d="M320.0 522.0L360.0 506.0L400.0 480.0L430.0 452.0"/>
<path d="M320.0 470.4L360.0 490.4L400.0 520.4L430.0 548.4"/>
<path d="M320.0 528.4L360.0 512.4L400.0 486.4L430.0 458.4"/>
<path d="M320.0 476.8L360.0 496.8L400.0 526.8L430.0 554.8"/>
<path d="M320.0 534.8L360.0 518.8L400.0 492.8L430.0 464.8"/>
<path d="M320.0 483.2L360.0 503.2L400.0 533.2L430.0 561.2"/>
<path d="M320.0 541.2L360.0 525.2L400.0 499.2L430.0 471.2"/>
<path d="M320.0 489.6L360.0 509.6L400.0 539.6L430.0 567.6"/>
<path d="M320.0 547.6L360.0 531.6L400.0 505.6L430.0 477.6"/>
<path d="M320.0 496.0L360.0 516.0L400.0 546.0L430.0 574.0"/>
<path d="M320.0 554.0L360.0 538.0L400.0 512.0L430.0 484.0"/>
<path d="M320.0 502.4L360.0 522.4L400.0 552.4L430.0 580.4"/>
<path d="M320.0 560.4L360.0 544.4L400.0 518.4L430.0 490.4"/>
<path d="M320.0 508.8L360.0 528.8L400.0 558.8L430.0 586.8"/>
<path d="M320.0 566.8L360.0 550.8L400.0 524.8L430.0 496.8"/>
<path d="M320.0 515.2L360.0 535.2L400.0 565.2L430.0 593.2"/>
<path d="M320.0 573.2L360.0 557.2L400.0 531.2L430.0 503.2"/>
<path d="M320.0 521.6L360.0 541.6L400.0 571.6L430.0 599.6"/>
<path d="M320.0 579.6L360.0 563.6L400.0 537.6L430.0 509.6"/>
</g>
<polygon points="129.5,296.5 136.7,301.4 172.0,346.0 166.5,350.0" fill="#00dc82" />
<polygon points="151.0,323.0 156.0,322.0 172.0,346.0 166.5,350.0" fill="#00ffff" />
<g stroke="#000" stroke-width="0.9" fill="none" stroke-linecap="round" stroke-linejoin="round">
<path d="M136.7 301.4L172.0 346.0"/>
<path d="M129.5 296.5L136.7 301.4"/>
<path d="M134.1 303.2L141.1 307.0"/>
<path d="M138.8 309.9L145.5 312.5"/>
<path d="M143.4 316.6L149.9 318.1"/>
<path d="M148.0 323.2L154.3 323.7"/>
<path d="M152.6 329.9L158.8 329.3"/>
<path d="M157.2 336.6L163.2 334.9"/>
<path d="M161.9 343.3L167.6 340.4"/>
<path d="M166.5 350.0L172.0 346.0"/>
</g>
<g clip-path="url(#c11)" stroke="#000" stroke-width="1.15" fill="none" stroke-linecap="round" stroke-linejoin="round">
<path d="M217.8 400.1L225.1 503.7L201.0 560.0"/>
<path d="M225.6 398.0L232.5 502.4L216.2 560.0"/>
<path d="M233.3 395.9L240.0 501.2L229.3 560.0"/>
<path d="M241.1 393.7L247.4 499.9L240.7 560.0"/>
<path d="M248.8 391.6L254.9 498.6L251.0 560.0"/>
<path d="M256.6 390.7L262.3 497.6L260.3 560.0"/>
<path d="M264.3 389.9L269.7 496.6L269.1 560.0"/>
<path d="M272.1 389.1L277.1 495.7L277.4 560.0"/>
<path d="M279.8 388.3L284.4 494.7L285.4 560.0"/>
<path d="M287.6 387.4L291.8 493.8L293.2 560.0"/>
<path d="M295.3 386.2L299.3 492.8L300.8 560.0"/>
<path d="M303.1 385.0L306.6 491.4L308.3 560.0"/>
<path d="M310.8 383.9L314.0 490.0L315.7 560.0"/>
<path d="M318.6 382.7L321.4 488.5L323.0 560.0"/>
<path d="M326.3 381.3L328.8 487.0L330.3 560.0"/>
<path d="M334.1 380.0L336.2 485.5L337.6 560.0"/>
<path d="M341.8 378.6L343.6 484.1L344.8 560.0"/>
<path d="M349.6 377.3L351.0 482.6L352.0 560.0"/>
<path d="M357.3 375.8L358.4 481.0L359.2 560.0"/>
<path d="M365.1 374.9L365.8 479.4L366.4 560.0"/>
<path d="M372.8 375.6L373.2 477.8L373.5 560.0"/>
<path d="M380.6 376.1L380.6 476.2L380.7 560.0"/>
<path d="M388.3 373.0L388.3 474.7L388.3 560.0"/>
<path d="M396.1 370.0L403.1 472.9L409.2 560.0"/>
<path d="M403.8 363.7L411.2 471.9L417.4 560.0"/>
<path d="M411.6 361.3L419.1 470.9L425.3 560.0"/>
<path d="M419.3 361.9L426.7 470.0L433.0 560.0"/>
<path d="M427.1 363.1L427.1 469.9L427.0 560.0"/>
<path d="M434.8 363.9L434.8 468.9L434.8 560.0"/>
<path d="M442.6 363.7L442.6 467.9L442.5 560.0"/>
<path d="M450.3 363.4L450.3 466.9L450.3 560.0"/>
<path d="M458.1 362.1L458.1 465.3L458.0 560.0"/>
<path d="M465.8 360.8L465.8 463.8L465.8 560.0"/>
<path d="M473.6 359.4L473.6 462.2L473.5 560.0"/>
<path d="M481.3 358.1L481.3 460.6L481.3 560.0"/>
<path d="M489.1 356.7L489.1 459.0L489.0 560.0"/>
<path d="M496.8 355.4L496.8 457.4L496.8 560.0"/>
<path d="M504.6 354.0L504.6 455.8L504.5 560.0"/>
<path d="M512.3 352.7L512.3 454.2L512.3 560.0"/>
<path d="M520.0 351.3L520.0 452.6L520.0 560.0"/>
</g>
<g stroke="#000" stroke-width="1.1" fill="none" stroke-linecap="round" stroke-linejoin="round">
<path d="M215.8 438.3L223.3 438.3L232.5 446.7L240.0 444.2L250.0 450.8L257.5 449.2L266.7 453.3L283.3 455.8L306.7 454.2L316.7 449.2L326.7 448.3L336.7 450.8L351.0 443.5L366.0 438.4L386.3 435.9L411.4 429.6L419.0 419.5L426.6 403.0L433.0 376.7L453.3 325.0L473.3 353.3L493.3 376.7L506.7 390.0L520.0 410.0"/>
</g>
<g clip-path="url(#c7)" stroke="#000" stroke-width="1.15" fill="none" stroke-linecap="round" stroke-linejoin="round">
<path d="M428.2 291.6L417.2 337.5L411.6 363.3"/>
<path d="M433.2 259.8L424.1 321.9L419.3 363.9"/>
<path d="M438.2 235.6L430.9 310.3L427.1 365.1"/>
<path d="M443.3 201.6L437.7 293.8L434.8 365.9"/>
<path d="M448.3 175.4L444.5 280.6L442.6 365.7"/>
<path d="M453.3 163.3L451.3 274.4L450.3 365.4"/>
<path d="M458.4 156.0L458.2 270.0L458.1 364.1"/>
<path d="M465.8 120.0L465.8 362.8"/>
<path d="M473.6 120.0L473.6 361.4"/>
<path d="M481.3 120.0L481.3 360.1"/>
<path d="M489.1 120.0L489.1 358.7"/>
<path d="M496.8 120.0L496.8 357.4"/>
<path d="M504.6 120.0L504.6 356.0"/>
<path d="M512.3 120.0L512.3 354.7"/>
<path d="M520.0 120.0L520.0 353.3"/>
</g>
<g clip-path="url(#c12)" stroke="#000" stroke-width="1.15" fill="none" stroke-linecap="round" stroke-linejoin="round">
<path d="M114.0 299.0L103.3 376.7L98.9 407.6"/>
<path d="M121.7 297.1L109.7 383.1L104.2 414.8"/>
<path d="M128.9 296.8L116.2 389.6L109.5 422.0"/>
<path d="M133.8 303.0L122.6 396.0L114.8 429.2"/>
<path d="M138.7 309.3L128.8 402.7L120.1 436.5"/>
<path d="M143.6 315.5L134.9 409.4L125.4 443.7"/>
<path d="M148.5 321.7L141.0 416.2L130.8 450.9"/>
<path d="M153.5 327.9L147.0 423.1L136.2 458.0"/>
<path d="M158.4 334.2L153.0 429.9L141.7 465.0"/>
<path d="M163.3 340.4L159.0 436.8L147.2 472.1"/>
<path d="M168.2 346.6L165.1 443.5L152.7 479.2"/>
<path d="M173.1 352.9L171.2 450.3L158.3 486.2"/>
<path d="M178.0 359.1L177.3 457.0L164.0 493.1"/>
<path d="M182.4 365.7L183.4 463.8L169.7 500.0"/>
<path d="M186.5 372.5L189.5 470.6L175.4 506.9"/>
<path d="M190.6 379.3L195.6 477.4L181.1 513.8"/>
<path d="M194.8 386.0L201.7 484.2L186.1 521.3"/>
<path d="M199.2 392.6L207.7 491.0L191.0 528.7"/>
<path d="M204.6 398.4L213.8 497.8L196.0 536.2"/>
<path d="M210.0 404.2L219.8 504.6L201.0 543.6"/>
<path d="M119.0 329.0L122.8 350.5L138.0 380.8L155.6 411.0L165.7 431.0L180.8 450.4L198.4 475.6L206.0 500.8"/>
</g>
<g clip-path="url(#c13)" stroke="#000" stroke-width="0.85" fill="none" stroke-linecap="round" stroke-linejoin="round">
<path d="M197.4 420.5L217.4 416.2L257.4 405.3L290.7 402.0L324.1 397.0L358.4 391.0L370.7 388.7L370.4 386.0"/>
<path d="M193.7 414.5L213.7 410.2L253.7 399.3L287.0 396.0L320.4 391.0L354.7 385.0L367.0 382.7L366.7 380.0"/>
<path d="M190.0 408.5L210.0 404.2L250.0 393.3L283.3 390.0L316.7 385.0L351.0 379.0L363.3 376.7L363.0 374.0"/>
<path d="M186.3 402.5L206.3 398.2L246.3 387.3L279.6 384.0L313.0 379.0L347.3 373.0L359.6 370.7L359.3 368.0"/>
<path d="M182.6 396.5L202.6 392.2L242.6 381.3L275.9 378.0L309.3 373.0L343.6 367.0L355.9 364.7L355.6 362.0"/>
<path d="M178.8 390.5L198.8 386.2L238.8 375.3L272.1 372.0L305.5 367.0L339.8 361.0L352.1 358.7L351.8 356.0"/>
<path d="M175.1 384.5L195.1 380.2L235.1 369.3L268.4 366.0L301.8 361.0L336.1 355.0L348.4 352.7L348.1 350.0"/>
<path d="M171.4 378.5L191.4 374.2L231.4 363.3L264.7 360.0L298.1 355.0L332.4 349.0L344.7 346.7L344.4 344.0"/>
<path d="M167.7 372.5L187.7 368.2L227.7 357.3L261.0 354.0L294.4 349.0L328.7 343.0L341.0 340.7L340.7 338.0"/>
<path d="M164.0 366.5L184.0 362.2L224.0 351.3L257.3 348.0L290.7 343.0L325.0 337.0L337.3 334.7L337.0 332.0"/>
<path d="M160.2 360.5L180.2 356.2L220.2 345.3L253.5 342.0L286.9 337.0L321.2 331.0L333.5 328.7L333.2 326.0"/>
<path d="M156.5 354.5L176.5 350.2L216.5 339.3L249.8 336.0L283.2 331.0L317.5 325.0L329.8 322.7L329.5 320.0"/>
<path d="M152.8 348.5L172.8 344.2L212.8 333.3L246.1 330.0L279.5 325.0L313.8 319.0L326.1 316.7L325.8 314.0"/>
<path d="M149.1 342.5L169.1 338.2L209.1 327.3L242.4 324.0L275.8 319.0L310.1 313.0L322.4 310.7L322.1 308.0"/>
<path d="M145.4 336.5L165.4 332.2L205.4 321.3L238.7 318.0L272.1 313.0L306.4 307.0L318.7 304.7L318.4 302.0"/>
<path d="M141.6 330.5L161.6 326.2L201.6 315.3L234.9 312.0L268.3 307.0L302.6 301.0L314.9 298.7L314.6 296.0"/>
<path d="M150.0 330.0L195.0 405.0"/>
<path d="M157.8 330.0L202.8 405.0"/>
<path d="M165.5 330.0L210.5 405.0"/>
<path d="M173.2 330.0L218.2 405.0"/>
<path d="M181.0 330.0L226.0 405.0"/>
<path d="M188.8 330.0L233.8 405.0"/>
<path d="M196.5 330.0L241.5 405.0"/>
<path d="M204.2 330.0L249.2 405.0"/>
<path d="M212.0 330.0L257.0 405.0"/>
<path d="M219.8 330.0L264.8 405.0"/>
<path d="M227.5 330.0L272.5 405.0"/>
<path d="M235.2 330.0L280.2 405.0"/>
<path d="M243.0 330.0L288.0 405.0"/>
<path d="M250.8 330.0L295.8 405.0"/>
<path d="M258.5 330.0L303.5 405.0"/>
<path d="M266.2 330.0L311.2 405.0"/>
<path d="M274.0 330.0L319.0 405.0"/>
<path d="M281.8 330.0L326.8 405.0"/>
<path d="M289.5 330.0L334.5 405.0"/>
<path d="M297.2 330.0L342.2 405.0"/>
<path d="M305.0 330.0L350.0 405.0"/>
<path d="M312.8 330.0L357.8 405.0"/>
<path d="M320.5 330.0L365.5 405.0"/>
<path d="M328.2 330.0L373.2 405.0"/>
<path d="M336.0 330.0L381.0 405.0"/>
<path d="M343.8 330.0L388.8 405.0"/>
<path d="M351.5 330.0L396.5 405.0"/>
<path d="M359.2 330.0L404.2 405.0"/>
<path d="M367.0 330.0L412.0 405.0"/>
<path d="M374.8 330.0L419.8 405.0"/>
</g>
<g stroke="#000" stroke-width="1.1" fill="none" stroke-linecap="round" stroke-linejoin="round">
<path d="M100.8 405.0L102.5 380.0L104.2 355.0L105.8 330.0L110.2 312.8L114.0 299.0L127.9 295.6L168.3 346.7L180.0 361.7L190.0 378.3L198.3 391.7L210.0 404.2"/>
<path d="M210.0 404.2L250.0 393.3L283.3 390.0L316.7 385.0L351.0 379.0L363.3 376.7L380.0 378.3L396.7 371.7L406.7 363.3L415.0 363.3L433.0 366.0L450.0 365.5L523.0 352.8"/>
<path d="M210.0 404.2L216.5 452.0L219.8 504.6L201.0 543.6"/>
<path d="M522.5 152.5L521.7 255.0L523.3 400.0L524.6 450.0L527.0 473.0L544.7 489.4"/>
<path d="M546.0 495.7L528.3 497.0L483.0 503.3L420.0 514.6L376.0 528.0L300.0 541.0L225.0 552.0L201.0 543.6"/>
<path d="M201.0 543.6L180.8 513.4L155.6 483.0L130.4 450.4L98.9 407.6"/>
<path d="M327.0 258.0L333.3 210.0L337.5 170.0L340.8 145.0L345.0 120.0L350.0 96.7L356.7 80.8L364.2 80.0L370.0 76.3L376.7 75.8L386.7 78.3L395.0 84.2L403.3 91.7L413.3 104.2L423.3 112.5L436.7 118.3L453.3 122.5L465.8 127.5"/>
<path d="M457.5 155.8L452.0 165.7L447.2 178.3L444.1 194.1L442.0 213.0L439.5 228.7L436.5 245.0L433.5 258.0L431.2 271.5L428.8 287.2L426.5 303.0L424.1 315.6L420.9 328.2L418.6 340.0"/>
<path d="M457.5 155.8L460.0 148.3L463.3 136.7L465.8 128.3L476.7 127.5L490.0 132.5L506.7 140.8L518.3 148.3L522.5 152.5"/>
<path d="M418.3 320.0L420.0 330.0L416.7 343.3L406.7 363.3L396.7 371.7L380.0 378.3L363.3 376.7L350.0 370.0L340.0 360.0L333.3 345.0"/>
</g>
<line x1="60.4" y1="410.0" x2="176.3" y2="574.5" stroke="#000" stroke-width="1.6" />
<line x1="176.3" y1="574.5" x2="561.0" y2="501.5" stroke="#000" stroke-width="1.6" />
<line x1="176.5" y1="574.5" x2="182.3" y2="580.5" stroke="#000" stroke-width="1.4" />
<line x1="212.5" y1="567.6" x2="214.7" y2="570.4" stroke="#000" stroke-width="1.4" />
<line x1="245.8" y1="561.3" x2="251.6" y2="567.3" stroke="#000" stroke-width="1.4" />
<line x1="279.2" y1="555.0" x2="281.4" y2="557.8" stroke="#000" stroke-width="1.4" />
<line x1="312.5" y1="548.7" x2="318.3" y2="554.7" stroke="#000" stroke-width="1.4" />
<line x1="346.0" y1="542.3" x2="348.2" y2="545.1" stroke="#000" stroke-width="1.4" />
<line x1="378.7" y1="536.1" x2="384.5" y2="542.1" stroke="#000" stroke-width="1.4" />
<line x1="411.4" y1="529.9" x2="413.6" y2="532.7" stroke="#000" stroke-width="1.4" />
<line x1="441.7" y1="524.1" x2="447.5" y2="530.1" stroke="#000" stroke-width="1.4" />
<line x1="472.0" y1="518.4" x2="474.2" y2="521.2" stroke="#000" stroke-width="1.4" />
<line x1="501.9" y1="512.7" x2="507.7" y2="518.7" stroke="#000" stroke-width="1.4" />
<line x1="531.0" y1="507.2" x2="533.2" y2="510.0" stroke="#000" stroke-width="1.4" />
<line x1="561.0" y1="501.5" x2="566.8" y2="507.5" stroke="#000" stroke-width="1.4" />
<line x1="176.3" y1="574.5" x2="165.3" y2="576.3" stroke="#000" stroke-width="1.4" />
<line x1="166.6" y1="560.8" x2="161.1" y2="561.8" stroke="#000" stroke-width="1.4" />
<line x1="157.0" y1="547.1" x2="146.0" y2="548.9" stroke="#000" stroke-width="1.4" />
<line x1="147.3" y1="533.4" x2="141.8" y2="534.4" stroke="#000" stroke-width="1.4" />
<line x1="137.7" y1="519.7" x2="126.7" y2="521.5" stroke="#000" stroke-width="1.4" />
<line x1="128.0" y1="506.0" x2="122.5" y2="507.0" stroke="#000" stroke-width="1.4" />
<line x1="118.4" y1="492.2" x2="107.4" y2="494.1" stroke="#000" stroke-width="1.4" />
<line x1="108.7" y1="478.5" x2="103.2" y2="479.5" stroke="#000" stroke-width="1.4" />
<line x1="99.0" y1="464.8" x2="88.0" y2="466.6" stroke="#000" stroke-width="1.4" />
<line x1="89.4" y1="451.1" x2="83.9" y2="452.1" stroke="#000" stroke-width="1.4" />
<line x1="79.7" y1="437.4" x2="68.7" y2="439.2" stroke="#000" stroke-width="1.4" />
<line x1="70.1" y1="423.7" x2="64.6" y2="424.7" stroke="#000" stroke-width="1.4" />
<line x1="60.4" y1="410.0" x2="49.4" y2="411.8" stroke="#000" stroke-width="1.4" />
<text x="31.7" y="420.8" font-family='"Liberation Sans", sans-serif' font-size="17.5" font-weight="normal" text-anchor="middle" >12</text>
<text x="48.3" y="444.4" font-family='"Liberation Sans", sans-serif' font-size="17.5" font-weight="normal" text-anchor="middle" >10</text>
<text x="70.4" y="468.7" font-family='"Liberation Sans", sans-serif' font-size="17.5" font-weight="normal" text-anchor="middle" >8</text>
<text x="89.0" y="496.4" font-family='"Liberation Sans", sans-serif' font-size="17.5" font-weight="normal" text-anchor="middle" >6</text>
<text x="108.8" y="524.0" font-family='"Liberation Sans", sans-serif' font-size="17.5" font-weight="normal" text-anchor="middle" >4</text>
<text x="129.0" y="553.8" font-family='"Liberation Sans", sans-serif' font-size="17.5" font-weight="normal" text-anchor="middle" >2</text>
<text x="150.8" y="585.0" font-family='"Liberation Sans", sans-serif' font-size="17.5" font-weight="normal" text-anchor="middle" >0</text>
<text x="228.7" y="602.5" font-family='"Liberation Sans", sans-serif' font-size="17.5" font-weight="normal" text-anchor="middle" >-12</text>
<text x="297.2" y="588.5" font-family='"Liberation Sans", sans-serif' font-size="17.5" font-weight="normal" text-anchor="middle" >-10</text>
<text x="359.7" y="577.0" font-family='"Liberation Sans", sans-serif' font-size="17.5" font-weight="normal" text-anchor="middle" >-8</text>
<text x="424.9" y="563.7" font-family='"Liberation Sans", sans-serif' font-size="17.5" font-weight="normal" text-anchor="middle" >-6</text>
<text x="489.3" y="552.4" font-family='"Liberation Sans", sans-serif' font-size="17.5" font-weight="normal" text-anchor="middle" >-4</text>
<text x="551.6" y="539.8" font-family='"Liberation Sans", sans-serif' font-size="17.5" font-weight="normal" text-anchor="middle" >-2</text>
<text x="608.4" y="526.7" font-family='"Liberation Sans", sans-serif' font-size="17.5" font-weight="normal" text-anchor="middle" >0</text>
<text transform="translate(352.2,623.3) rotate(-10.2)" font-family='"Liberation Sans", sans-serif' font-size="23.5">Ось Z, мм</text>
<text transform="translate(620.6,437.5) rotate(-87.2)" font-family='"Liberation Sans", sans-serif' font-size="19">Сигнал детектора, отн.ед.</text>
<text x="668.2" y="144.4" font-family='"Liberation Serif", serif' font-size="28.5" font-weight="normal" text-anchor="start" >Место облучения</text>
<text x="635.0" y="461.7" font-family='"Liberation Serif", serif' font-size="25.4" font-weight="bold" text-anchor="start" stroke="#000" stroke-width="0.35">обычно используемый</text>
<text x="641.7" y="493.3" font-family='"Liberation Serif", serif' font-size="25.4" font-weight="bold" text-anchor="start" stroke="#000" stroke-width="0.35">n-p&#160;&#160; XUV фотодиод</text>
<text x="635.0" y="522.7" font-family='"Liberation Serif", serif' font-size="25.4" font-weight="bold" text-anchor="start" stroke="#000" stroke-width="0.35">после дозы 2.7 Дж/см</text>
<text x="882.5" y="516.0" font-family='"Liberation Serif", serif' font-size="17.5" font-weight="bold" text-anchor="start" stroke="#000" stroke-width="0.35">2</text>
<line x1="691.7" y1="161.7" x2="369.4" y2="277.8" stroke="#ea1eea" stroke-width="2" />
<polygon points="357.8,282.8 367.2,272.2 371.7,283.9" fill="#f414f4" />
</svg>
</body></html>
